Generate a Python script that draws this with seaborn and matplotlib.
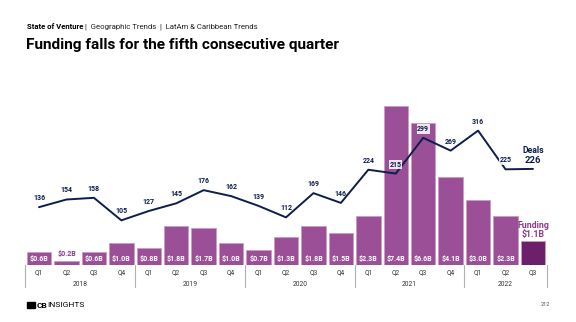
import matplotlib
matplotlib.use("Agg")
import matplotlib.pyplot as plt
import seaborn as sns
import pandas as pd
import numpy as np
from matplotlib.patches import Rectangle

sns.set_theme(style="white")
plt.rcParams['font.family'] = ['Roboto', 'DejaVu Sans']

quarters = ["Q1", "Q2", "Q3", "Q4"] * 4 + ["Q1", "Q2", "Q3"]
years = ["2018"] * 4 + ["2019"] * 4 + ["2020"] * 4 + ["2021"] * 4 + ["2022"] * 3
year_labels = ["2018", "2019", "2020", "2021", "2022"]
funding = [0.6, 0.2, 0.6, 1.0, 0.8, 1.8, 1.7, 1.0, 0.7, 1.3, 1.8, 1.5,
           2.3, 7.4, 6.6, 4.1, 3.0, 2.3, 1.1]
funding_labels = ["$0.6B", "$0.2B", "$0.6B", "$1.0B", "$0.8B", "$1.8B", "$1.7B", "$1.0B",
                  "$0.7B", "$1.3B", "$1.8B", "$1.5B", "$2.3B", "$7.4B", "$6.6B", "$4.1B",
                  "$3.0B", "$2.3B", "$1.1B"]
deals = [136, 154, 158, 105, 127, 145, 176, 162, 139, 112, 169, 146,
         224, 215, 299, 269, 316, 225, 226]

BAR = "#9A4F97"
BAR_LAST = "#6D1F6C"
NAVY = "#0E1D4B"
PURPLE_TXT = "#8A3C88"

n = len(funding)
keys = [f"{q} {y}" for q, y in zip(quarters, years)]
df = pd.DataFrame({"key": keys, "funding": funding, "deals": deals})
colors = [BAR] * (n - 1) + [BAR_LAST]

W, H = 576, 322
fig = plt.figure(figsize=(W / 100, H / 100), dpi=100)
ax = fig.add_axes([25.3 / W, 1 - 265 / H, 521.4 / W, 165 / H])

sns.barplot(data=df, x="key", y="funding", hue="key", palette=colors, legend=False,
            width=0.89, ax=ax, edgecolor="#C99CC7", linewidth=0.6, saturation=1)
ax.set_ylim(0, 7.67)
ax.set_xlim(-0.5, n - 0.5)
ax.set_xlabel("")
ax.set_ylabel("")
ax.set_yticks([])
ax.set_xticks([])
for s in ax.spines.values():
    s.set_visible(False)

for i, (v, lab) in enumerate(zip(funding[:-1], funding_labels[:-1])):
    if v < 0.4:
        ax.text(i, v + 0.3, lab, ha="center", va="center", fontsize=5,
                fontweight="bold", color=PURPLE_TXT)
    else:
        ax.text(i, 0.28, lab, ha="center", va="center", fontsize=5,
                fontweight="bold", color="white")

ax2 = ax.twinx()
xpos = np.arange(n)
sns.lineplot(x=xpos, y=deals, ax=ax2, color=NAVY, linewidth=1.4)
ax2.set_ylim(0, 388)
ax2.set_yticks([])
ax2.set_ylabel("")
for s in ax2.spines.values():
    s.set_visible(False)

boxed = {13, 14, 17}
for i, d in enumerate(deals[:-1]):
    kw = {}
    if i in boxed:
        kw["bbox"] = dict(boxstyle="square,pad=0.1", fc="white", ec="none", alpha=0.85)
    ax2.annotate(str(d), (i, d), xytext=(0, 6.5), textcoords="offset points",
                 ha="center", va="center", fontsize=5, fontweight="bold",
                 color=NAVY, **kw)

# end annotations
fig.text(533 / W, 1 - 150.5 / H, "Deals", ha="center", va="center", fontsize=6.3,
         fontweight="bold", color=NAVY)
fig.text(533 / W, 1 - 160 / H, "226", ha="center", va="center", fontsize=6.8,
         fontweight="bold", color=NAVY)
fig.text(533 / W, 1 - 225.5 / H, "Funding", ha="center", va="center", fontsize=6.3,
         fontweight="bold", color=PURPLE_TXT)
fig.text(533 / W, 1 - 235 / H, "$1.1B", ha="center", va="center", fontsize=6.3,
         fontweight="bold", color=PURPLE_TXT)

# x axis with grouped labels
GRAY = "#B0B0B0"
ax.axhline(0, color=GRAY, linewidth=0.8, zorder=0)
for i, q in enumerate(quarters):
    ax.text(i, -8 / 21.5, q, ha="center", va="center", fontsize=4.8, color="#333333",
            clip_on=False)
bounds = [-0.5]
for i in range(1, n):
    if years[i] != years[i - 1]:
        bounds.append(i - 0.5)
bounds.append(n - 0.5)
for b in bounds:
    ax.plot([b, b], [0, -22 / 21.5], color=GRAY, linewidth=0.8, clip_on=False)
for k, y in enumerate(year_labels):
    cx = (bounds[k] + bounds[k + 1]) / 2
    ax.text(cx, -19 / 21.5, y, ha="center", va="center", fontsize=4.8,
            color="#333333", clip_on=False)

# titles
t1 = fig.text(27 / W, 1 - 26.5 / H, "State of Venture", ha="left", va="center",
              fontsize=5.6, fontweight="bold", color="black")
fig.canvas.draw()
r = fig.canvas.get_renderer()
bb = t1.get_window_extent(r)
fig.text((bb.x1 + 2) / W, 1 - 26.5 / H,
         "|  Geographic Trends  |  LatAm & Caribbean Trends", ha="left", va="center",
         fontsize=5.6, color="#222222")
fig.text(26 / W, 1 - 45 / H, "Funding falls for the fifth consecutive quarter",
         ha="left", va="center", fontsize=11.1, fontweight="bold", color="black")

# footer
fig.patches.append(Rectangle((27 / W, 1 - 308 / H), 8 / W, 6 / H,
                             transform=fig.transFigure, color="black"))
t2 = fig.text(36.5 / W, 1 - 305 / H, "CB", ha="left", va="center", fontsize=6,
              fontweight="bold", color="black")
fig.canvas.draw()
bb2 = t2.get_window_extent(r)
fig.text(bb2.x1 / W, 1 - 305 / H, "INSIGHTS", ha="left", va="center", fontsize=6,
         color="black")
fig.text(545 / W, 1 - 305 / H, "212", ha="center", va="center", fontsize=4,
         color="#444444")

fig.savefig("out.png", dpi=100)
